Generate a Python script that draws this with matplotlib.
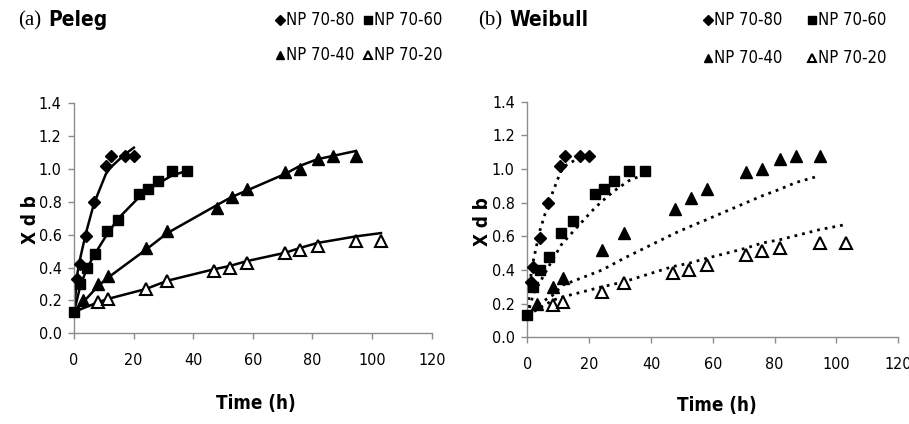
import matplotlib
matplotlib.use('Agg')
import matplotlib.pyplot as plt
from matplotlib.lines import Line2D
from matplotlib import font_manager

# narrow sans font like the original (Arial Narrow); pick what is installed
names = set(f.name for f in font_manager.fontManager.ttflist)
files = [f.fname for f in font_manager.fontManager.ttflist]
if 'Liberation Sans Narrow' in names:
    FAM, STRETCH = 'Liberation Sans Narrow', 'normal'
elif any('Condensed' in f and 'DejaVuSans' in f for f in files):
    FAM, STRETCH = 'DejaVu Sans', 'condensed'
else:
    FAM, STRETCH = 'Liberation Sans', 'normal'
plt.rcParams['font.family'] = [FAM, 'DejaVu Sans']
plt.rcParams['font.stretch'] = STRETCH

# measured data, moisture content (X d.b.) vs time (h) - same in both panels
t80 = [1.1, 2.0, 4.0, 6.7, 10.7, 12.3, 17.1, 20.1]
x80 = [0.33, 0.42, 0.59, 0.80, 1.02, 1.08, 1.08, 1.08]
t60 = [0, 2.0, 4.2, 6.9, 11.0, 14.9, 21.9, 24.9, 28.1, 32.8, 38.0]
x60 = [0.13, 0.30, 0.40, 0.48, 0.62, 0.69, 0.85, 0.88, 0.93, 0.99, 0.99]
t40 = [3.1, 8.2, 11.5, 24.2, 31.3, 47.9, 52.9, 58.1, 70.8, 75.9, 81.7, 86.9, 94.6]
x40 = [0.20, 0.30, 0.35, 0.52, 0.62, 0.76, 0.83, 0.88, 0.98, 1.00, 1.06, 1.08, 1.08]
t20 = [8.2, 11.5, 24.2, 31.3, 47.0, 52.3, 58.1, 70.8, 75.9, 81.7, 94.6, 103.0]
x20 = [0.19, 0.21, 0.27, 0.32, 0.38, 0.40, 0.43, 0.49, 0.51, 0.53, 0.56, 0.56]

# model curves (times at which the fits were drawn)
ft80 = [0, 1.1, 2.0, 4.0, 6.7, 10.7, 12.3, 17.1, 20.1]
ft60 = [0, 2.0, 4.2, 6.9, 11.0, 14.9, 21.9, 24.9, 28.1, 32.8, 38.0]
ft40 = [0, 3.1, 8.2, 11.5, 24.2, 31.3, 47.9, 52.9, 58.1, 70.8, 75.9, 81.7, 86.9, 94.6]
ft20 = [0, 8.2, 11.5, 24.2, 31.3, 47.0, 52.3, 58.1, 70.8, 75.9, 81.7, 94.6, 103.0]

peleg80 = [0.13, 0.36, 0.45, 0.61, 0.79, 0.97, 1.01, 1.09, 1.13]
peleg60 = [0.13, 0.28, 0.39, 0.48, 0.60, 0.70, 0.83, 0.88, 0.91, 0.96, 0.99]
peleg40 = [0.13, 0.19, 0.29, 0.34, 0.51, 0.61, 0.78, 0.83, 0.87, 0.97, 1.02, 1.06, 1.08, 1.11]
peleg20 = [0.13, 0.19, 0.21, 0.27, 0.32, 0.39, 0.41, 0.44, 0.49, 0.52, 0.55, 0.59, 0.61]

weib80 = [0.13, 0.36, 0.46, 0.63, 0.79, 0.98, 1.02, 1.07, 1.08]
weib60 = [0.13, 0.26, 0.33, 0.42, 0.55, 0.63, 0.77, 0.82, 0.87, 0.93, 0.97]
weib40 = [0.13, 0.19, 0.25, 0.31, 0.40, 0.47, 0.62, 0.66, 0.70, 0.80, 0.84, 0.88, 0.92, 0.96]
weib20 = [0.13, 0.22, 0.24, 0.30, 0.33, 0.42, 0.44, 0.47, 0.53, 0.56, 0.58, 0.64, 0.67]

labels = ['NP 70-80', 'NP 70-60', 'NP 70-40', 'NP 70-20']
xticks = [0, 20, 40, 60, 80, 100, 120]
yticks = [0.0, 0.2, 0.4, 0.6, 0.8, 1.0, 1.2, 1.4]

W, H = 909, 424
fig = plt.figure(figsize=(W / 100, H / 100), dpi=100)

# marker styles for the four series
styles = [dict(marker='D', ms=6.5, mfc='black', mec='black'),
          dict(marker='s', ms=7, mfc='black', mec='black'),
          dict(marker='^', ms=8.5, mfc='black', mec='black'),
          dict(marker='^', ms=8, mfc='white', mec='black', mew=1.5)]


def panel(rect, fits, ls, lw):
    ax = fig.add_axes(rect)
    ft = [ft80, ft60, ft40, ft20]
    for t, f in zip(ft, fits):
        ax.plot(t, f, color='black', ls=ls, lw=lw, zorder=2)
    data = [(t80, x80), (t60, x60), (t40, x40), (t20, x20)]
    for (t, x), st in zip(data, styles):
        ax.plot(t, x, ls='none', zorder=3, clip_on=False, **st)
    ax.set_xlim(0, 120)
    ax.set_ylim(0, 1.4)
    ax.set_xticks(xticks)
    ax.set_yticks(yticks)
    ax.set_yticklabels(['%.1f' % v for v in yticks])
    for s in ['top', 'right']:
        ax.spines[s].set_visible(False)
    for s in ['left', 'bottom']:
        ax.spines[s].set_color('#8c8c8c')
        ax.spines[s].set_linewidth(1.0)
    ax.tick_params(direction='out', length=4, width=1, color='#8c8c8c',
                   labelsize=11.5, pad=5)
    ax.tick_params(axis='x', pad=10)
    ax.patch.set_visible(False)
    return ax


def px(x, y):
    return x / W, 1 - y / H


def legend(x0, x1, y0, y1):
    pos = [(x0, y0), (x1, y0), (x0, y1), (x1, y1)]
    for (x, y), st, lab in zip(pos, styles, labels):
        st2 = dict(st)
        st2['ms'] = st['ms'] * 0.75
        fig.add_artist(Line2D([x / W], [1 - y / H], transform=fig.transFigure,
                              ls='none', **st2))
        fig.text(*px(x + 6, y), lab, fontsize=12, va='center', ha='left')


axL = panel([74 / W, 1 - 333.3 / H, (431.7 - 74) / W, (333.3 - 103.3) / H],
            [peleg80, peleg60, peleg40, peleg20], '-', 1.8)
axR = panel([527.3 / W, 1 - 337.3 / H, (898.3 - 527.3) / W, (337.3 - 101.7) / H],
            [weib80, weib60, weib40, weib20], (0, (1.0, 1.8)), 2.0)

# panel titles
fig.text(*px(18, 21), '(a)', family=['Liberation Serif', 'DejaVu Serif'],
         fontsize=15, va='center', ha='left')
fig.text(*px(48, 20), 'Peleg', fontsize=15, weight='bold', va='center', ha='left')
fig.text(*px(478, 21), '(b)', family=['Liberation Serif', 'DejaVu Serif'],
         fontsize=15, va='center', ha='left')
fig.text(*px(509, 20), 'Weibull', fontsize=15, weight='bold', va='center', ha='left')

legend(280, 368, 20, 55)
legend(708, 812, 20, 58)

# axis titles
for xc, yc in [(31, 220), (482, 222)]:
    fig.text(*px(xc, yc), 'X d b', fontsize=13.5, weight='bold', rotation=90,
             va='center', ha='center')
for xc, yc in [(256, 403), (717, 405)]:
    fig.text(*px(xc, yc), 'Time (h)', fontsize=13.5, weight='bold',
             va='center', ha='center')

fig.savefig('out.png', dpi=100)
